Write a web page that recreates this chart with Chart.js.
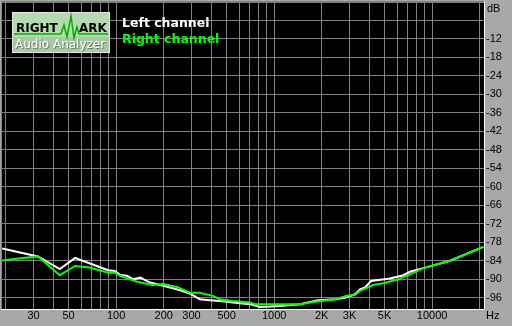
<!DOCTYPE html>
<html>
<head>
<meta charset="utf-8">
<script src="https://cdn.jsdelivr.net/npm/chart.js@4.4.1/dist/chart.umd.min.js"></script>
<style>
  html, body { margin: 0; padding: 0; background: #a8a8a8; overflow: hidden; }
</style>
</head>
<body>
<canvas id="chart" width="512" height="326"></canvas>
<script>
// Frequency response (Hz / dB)
const leftFreq = [19, 32, 44, 55, 89, 98, 106, 117, 128, 142, 164, 190, 219, 254, 293, 339, 393, 454, 549, 703, 814, 942, 1089, 1458, 1896, 2428, 2808, 3250, 3496, 3760, 4104, 5412, 6572, 7244, 8790, 12972, 21080];
const leftDb = [-80.0, -82.6, -86.7, -83.1, -87.1, -87.3, -88.6, -88.9, -90.0, -89.5, -91.1, -91.9, -92.7, -93.6, -94.7, -96.5, -96.8, -97.1, -97.6, -98.1, -99.0, -98.9, -98.7, -98.1, -96.8, -96.5, -96.0, -94.9, -93.3, -92.7, -90.6, -89.8, -88.7, -87.6, -86.4, -84.0, -79.5];

const rightFreq = [19, 22, 32, 44, 55, 68, 89, 98, 106, 122, 136, 171, 199, 243, 293, 339, 410, 454, 549, 703, 757, 942, 1260, 1458, 1815, 2428, 2891, 3250, 3496, 4243, 4910, 5968, 6902, 8790, 12972, 21080];
const rightDb = [-83.9, -83.5, -82.6, -88.7, -85.7, -86.2, -87.9, -87.8, -88.9, -90.0, -90.8, -91.9, -91.6, -92.5, -94.4, -94.4, -95.4, -96.5, -97.1, -97.6, -98.1, -98.1, -98.1, -98.1, -97.3, -96.5, -95.4, -95.1, -93.8, -91.9, -91.3, -90.2, -88.9, -86.4, -84.0, -79.5];

// Grid / tick layout
const gridFreqs = [20, 30, 40, 50, 60, 70, 80, 90, 100, 200, 300, 400, 500, 600, 700, 800, 900,
    1000, 2000, 3000, 4000, 5000, 6000, 7000, 8000, 9000, 10000, 20000];
const freqLabels = { 30: '30', 50: '50', 100: '100', 200: '200', 300: '300', 500: '500',
    1000: '1000', 2000: '2K', 3000: '3K', 5000: '5K', 10000: '10000' };
const dbGrid = [-96, -90, -84, -78, -72, -66, -60, -54, -48, -42, -36, -30, -24, -18, -12, -6, 0];
const dbLabeled = [-96, -90, -84, -78, -72, -66, -60, -54, -48, -42, -36, -30, -24, -18, -12];

const seriesNames = ['Left channel', 'Right channel'];
const seriesColors = ['#ffffff', '#00ff00'];

const toPoints = (fs, ds) => fs.map((f, i) => ({ x: f, y: ds[i] }));
const axisFont = { family: '"Liberation Sans", Arial, sans-serif', size: 11, lineHeight: 1 };

// no label overflow padding, the plot box is fixed
const noPad = s => { s.paddingTop = 0; s.paddingBottom = 0; s.paddingLeft = 0; s.paddingRight = 0; };

// background, frame, logo and legend text
const decor = {
    id: 'decor',
    beforeDraw(chart) {
        const { ctx, chartArea: a } = chart;
        ctx.save();
        ctx.fillStyle = '#a8a8a8';
        ctx.fillRect(0, 0, chart.width, chart.height);
        ctx.fillStyle = '#000';
        ctx.fillRect(a.left, a.top, a.right - a.left, a.bottom - a.top);
        ctx.restore();
    },
    afterDraw(chart) {
        const { ctx, chartArea: a } = chart;
        ctx.save();
        // sunken frame
        ctx.lineWidth = 1;
        ctx.strokeStyle = '#808080';
        ctx.beginPath();
        ctx.moveTo(a.left - 0.5, a.bottom);
        ctx.lineTo(a.left - 0.5, a.top - 0.5);
        ctx.lineTo(a.right, a.top - 0.5);
        ctx.stroke();
        ctx.strokeStyle = '#ffffff';
        ctx.beginPath();
        ctx.moveTo(a.left - 1, a.bottom - 0.5);
        ctx.lineTo(a.right - 0.5, a.bottom - 0.5);
        ctx.lineTo(a.right - 0.5, a.top - 1);
        ctx.stroke();

        // axis units
        ctx.fillStyle = '#000';
        ctx.font = '11px "Liberation Sans", Arial, sans-serif';
        ctx.textBaseline = 'alphabetic';
        ctx.fillText('dB', 487, 12);
        ctx.fillText('Hz', 486, 319);

        // logo
        ctx.fillStyle = '#e8e8e8';
        ctx.fillRect(12, 12, 98, 41);
        ctx.fillStyle = '#b4dab0';
        ctx.fillRect(13, 13, 96, 39);
        ctx.fillStyle = '#a9c9a6';
        ctx.fillRect(13, 37, 96, 15);
        ctx.font = 'bold 12px "DejaVu Sans", sans-serif';
        ctx.fillStyle = '#000';
        ctx.fillText('RIGHT', 16, 32);
        ctx.fillText('ARK', 79, 32);
        ctx.strokeStyle = '#00b000';
        ctx.lineWidth = 1.5;
        ctx.beginPath();
        ctx.moveTo(14, 34);
        ctx.lineTo(61, 34);
        ctx.lineTo(64, 25);
        ctx.lineTo(67, 37);
        ctx.lineTo(71, 16);
        ctx.lineTo(74, 38);
        ctx.lineTo(77, 27);
        ctx.lineTo(79, 34);
        ctx.lineTo(108, 34);
        ctx.stroke();
        ctx.font = '12px "DejaVu Sans", sans-serif';
        ctx.fillStyle = '#6a7a6a';
        ctx.fillText('Audio Analyzer', 16, 49);
        ctx.fillStyle = '#ffffff';
        ctx.fillText('Audio Analyzer', 15, 48);

        // legend
        ctx.font = 'bold 12.5px "DejaVu Sans", sans-serif';
        ctx.fillStyle = seriesColors[0];
        ctx.fillText(seriesNames[0], 122, 27);
        ctx.fillStyle = seriesColors[1];
        ctx.fillText(seriesNames[1], 122, 43);
        ctx.restore();
    }
};

new Chart(document.getElementById('chart'), {
    type: 'line',
    data: {
        datasets: [
            { label: seriesNames[0], data: toPoints(leftFreq, leftDb), borderColor: seriesColors[0], order: 2 },
            { label: seriesNames[1], data: toPoints(rightFreq, rightDb), borderColor: seriesColors[1], order: 1 }
        ]
    },
    options: {
        responsive: false,
        animation: false,
        layout: { padding: { left: 2, top: 2, right: 0, bottom: 0 } },
        elements: {
            line: { borderWidth: 2, tension: 0 },
            point: { radius: 0 }
        },
        plugins: { legend: { display: false }, tooltip: { enabled: false } },
        scales: {
            x: {
                type: 'logarithmic',
                min: 18.95,
                max: 21600,
                position: 'bottom',
                afterBuildTicks: s => { s.ticks = gridFreqs.map(v => ({ value: v })); },
                afterFit: s => { s.height = 16; noPad(s); },
                grid: { color: '#808080', lineWidth: 1, drawTicks: false },
                border: { display: false },
                ticks: {
                    autoSkip: false, maxRotation: 0, minRotation: 0, padding: 0,
                    color: '#000', font: axisFont,
                    callback: v => freqLabels[v] || ''
                }
            },
            y: {
                type: 'linear',
                min: -100,
                max: 0,
                position: 'right',
                afterBuildTicks: s => { s.ticks = dbGrid.map(v => ({ value: v })); },
                afterFit: s => { s.width = 27; noPad(s); },
                grid: { color: '#808080', lineWidth: 1, drawTicks: false },
                border: { display: false },
                ticks: {
                    padding: 1, color: '#000', font: axisFont,
                    callback: v => dbLabeled.includes(v) ? String(v) : ''
                }
            }
        }
    },
    plugins: [decor]
});
</script>
</body>
</html>
